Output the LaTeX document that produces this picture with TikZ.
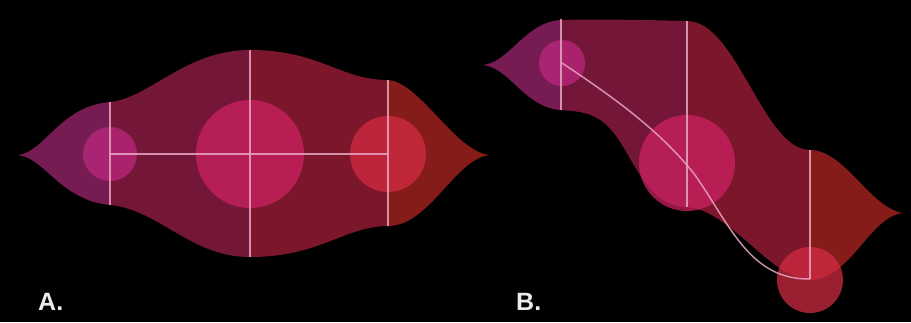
\documentclass[tikz,border=0pt]{standalone}
\usepackage{fontspec}
\setmainfont{Liberation Sans}
\definecolor{lobeL}{RGB}{118,28,82}
\definecolor{midL}{RGB}{116,22,56}
\definecolor{midR}{RGB}{124,22,42}
\definecolor{lobeR}{RGB}{134,28,26}
\definecolor{dotM}{RGB}{190,40,128}
\definecolor{dotC}{RGB}{208,34,100}
\definecolor{dotR}{RGB}{214,44,68}
\definecolor{guidecol}{RGB}{232,165,195}
\begin{document}
\begin{tikzpicture}[x=1pt,y=-1pt]
\tikzset{
  guide/.style={draw=guidecol, line width=1.5pt, draw opacity=0.85},
  dot/.style={circle, inner sep=0pt, fill opacity=0.72, draw=none},
  lbl/.style={font=\bfseries\fontsize{25}{25}\selectfont, text=white!92!black, anchor=base west, inner sep=0pt}
}
\fill[black] (0,0) rectangle (911,322);
\useasboundingbox (0,0) rectangle (911,322);

% ---------- Panel A ----------
\def\shapeA{(18,155) .. controls (45,152) and (60,106) .. (110,102)
  .. controls (150,98) and (185,50) .. (250,50)
  .. controls (320,50) and (340,80) .. (388,80)
  .. controls (420,82) and (455,152) .. (490,155)
  .. controls (455,158) and (430,226) .. (388,226)
  .. controls (345,226) and (320,257) .. (250,257)
  .. controls (190,257) and (160,210) .. (110,205)
  .. controls (60,200) and (45,158) .. (18,155) -- cycle}
\begin{scope}
  \clip \shapeA;
  \fill[lobeL] (0,0) rectangle (110,322);
  \fill[midL] (110,0) rectangle (250,322);
  \fill[midR] (250,0) rectangle (388,322);
  \fill[lobeR] (388,0) rectangle (500,322);
\end{scope}
\coordinate (a1) at (110,154);
\coordinate (a2) at (250,154);
\coordinate (a3) at (388,154);
\coordinate (a1t) at (110,102); \coordinate (a1b) at (110,205);
\coordinate (a2t) at (250,50);  \coordinate (a2b) at (250,257);
\coordinate (a3t) at (388,80);  \coordinate (a3b) at (388,226);
\node[dot, fill=dotM, minimum size=54pt] (ca1) at (a1) {};
\node[dot, fill=dotC, minimum size=108pt] (ca2) at (a2) {};
\node[dot, fill=dotR, minimum size=76pt] (ca3) at (a3) {};
\draw[guide] (a1t) -- (a1b);
\draw[guide] (a2t) -- (a2b);
\draw[guide] (a3t) -- (a3b);
\draw[guide] (a1) -- (a3);

% ---------- Panel B ----------
\def\shapeB{(483,65) .. controls (510,62) and (525,22) .. (561,20)
  .. controls (600,19) and (650,20) .. (687,21)
  .. controls (737,21) and (763,150) .. (810,150)
  .. controls (845,150) and (870,208) .. (903,213)
  .. controls (870,216) and (850,280) .. (810,280)
  .. controls (770,278) and (730,210) .. (687,207)
  .. controls (655,207) and (640,175) .. (625,150)
  .. controls (605,115) and (590,112) .. (561,110)
  .. controls (525,108) and (510,68) .. (483,65) -- cycle}
\begin{scope}
  \clip \shapeB;
  \fill[lobeL] (470,0) rectangle (561,322);
  \fill[midL] (561,0) rectangle (687,322);
  \fill[midR] (687,0) rectangle (810,322);
  \fill[lobeR] (810,0) rectangle (911,322);
\end{scope}
\coordinate (b1) at (562,63);
\coordinate (b2) at (687,163);
\coordinate (b3) at (810,279);
\coordinate (b1t) at (561,19);  \coordinate (b1b) at (561,110);
\coordinate (b2t) at (687,21);  \coordinate (b2b) at (687,207);
\coordinate (b3t) at (810,150);
\node[dot, fill=dotM, minimum size=46pt] (cb1) at (b1) {};
\node[dot, fill=dotC, minimum size=96pt] (cb2) at (b2) {};
\node[dot, fill=dotR, minimum size=66pt] (cb3) at (810,280) {};
\draw[guide] (b1t) -- (b1b);
\draw[guide] (b2t) -- (b2b);
\draw[guide] (b3t) -- (b3);
\draw[guide] (b1) .. controls (610,95) and (660,130) .. (695,175)
  .. controls (730,225) and (750,280) .. (b3);

% ---------- Labels ----------
\node[lbl] (la) at (38,310) {A.};
\node[lbl] (lb) at (516,310) {B.};
\end{tikzpicture}
\end{document}
